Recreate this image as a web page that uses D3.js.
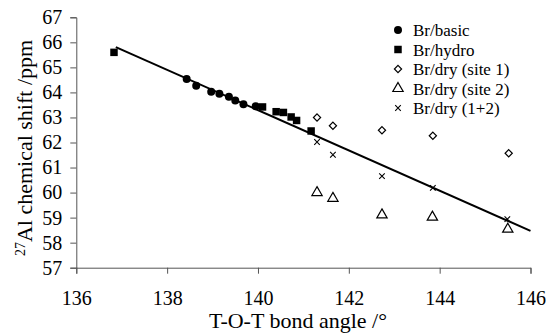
<!DOCTYPE html>
<html><head><meta charset="utf-8">
<script src="https://cdn.jsdelivr.net/npm/d3@7"></script>
<style>
body{margin:0;background:#fff;}
svg text{font-family:"Liberation Serif","Times New Roman",serif !important;fill:#000;}
</style></head>
<body><svg id="c" width="546" height="335"></svg>
<script>
const basicX = [138.43, 138.64, 138.97, 139.15, 139.36, 139.5, 139.68, 139.95];
const basicY = [64.54, 64.27, 64.03, 63.95, 63.83, 63.68, 63.53, 63.45];
const hydroX = [136.83, 140.1, 140.4, 140.56, 140.73, 140.85, 141.17];
const hydroY = [65.6, 63.42, 63.23, 63.2, 63.02, 62.88, 62.46];
const site1X = [141.3, 141.65, 142.73, 143.85, 145.52];
const site1Y = [63.0, 62.67, 62.49, 62.27, 61.57];
const site2X = [141.3, 141.65, 142.73, 143.84, 145.5];
const site2Y = [60.0, 59.77, 59.11, 59.02, 58.54];
const bothX = [141.3, 141.65, 142.73, 143.85, 145.49];
const bothY = [62.02, 61.51, 60.66, 60.19, 58.94];
const trendX = [136.87, 146.0];
const trendY = [65.81, 58.47];
const xTicks = [136, 138, 140, 142, 144, 146];
const yTicks = [57, 58, 59, 60, 61, 62, 63, 64, 65, 66, 67];
const legendLabels = ["Br/basic", "Br/hydro", "Br/dry (site 1)", "Br/dry (site 2)", "Br/dry (1+2)"];

const svg = d3.select("#c");
const x = d3.scaleLinear().domain([136, 146]).range([76.3, 530.5]);
const y = d3.scaleLinear().domain([57, 67]).range([267.7, 17.3]);

const axisColor = "#555";
const gx = svg.append("g").attr("transform", `translate(0,${y(57)})`)
  .call(d3.axisBottom(x).tickValues(xTicks).tickFormat(d3.format("d")).tickSize(6).tickPadding(17));
const gy = svg.append("g").attr("transform", `translate(${x(136)},0)`)
  .call(d3.axisLeft(y).tickValues(yTicks).tickFormat(d3.format("d")).tickSize(6).tickPadding(8));
[gx, gy].forEach(g => {
  g.attr("font-family", null).attr("font-size", null);
  g.select(".domain").attr("stroke", axisColor).attr("stroke-width", 1);
  g.selectAll(".tick line").attr("stroke", axisColor);
  g.selectAll(".tick text").style("font-family", '"Liberation Serif",serif').style("font-size", "20px").attr("fill", "#000");
});

// trend line
svg.append("line")
  .attr("x1", x(trendX[0])).attr("y1", y(trendY[0]))
  .attr("x2", x(trendX[1])).attr("y2", y(trendY[1]))
  .attr("stroke", "#000").attr("stroke-width", 2);

const pts = (xs, ys) => xs.map((v, i) => [v, ys[i]]);
const diamondPath = () => "M0,-3.6L3.6,0L0,3.6L-3.6,0Z";
const sym = {
  circle: d3.symbol().type(d3.symbolCircle).size(50),
  square: d3.symbol().type(d3.symbolSquare).size(56),
  diamond: diamondPath,
  triangle: d3.symbol().type(d3.symbolTriangle).size(46),
  cross: d3.symbol().type(d3.symbolTimes).size(22)
};
const styles = {
  circle: {fill: "#000", stroke: "none", sw: 0},
  square: {fill: "#000", stroke: "none", sw: 0},
  diamond: {fill: "#fff", stroke: "#000", sw: 1.2},
  triangle: {fill: "none", stroke: "#000", sw: 1.2},
  cross: {fill: "none", stroke: "#000", sw: 1.1}
};
function draw(data, kind) {
  svg.append("g").selectAll("path").data(data).join("path")
    .attr("transform", d => `translate(${x(d[0])},${y(d[1])})`)
    .attr("d", sym[kind]())
    .attr("fill", styles[kind].fill).attr("stroke", styles[kind].stroke)
    .attr("stroke-width", styles[kind].sw);
}
draw(pts(site2X, site2Y), "triangle");
draw(pts(bothX, bothY), "cross");
draw(pts(site1X, site1Y), "diamond");
draw(pts(hydroX, hydroY), "square");
draw(pts(basicX, basicY), "circle");

// legend
const kinds = ["circle", "square", "diamond", "triangle", "cross"];
const lg = svg.append("g");
kinds.forEach((k, i) => {
  const cy = 30 + i * 19.5;
  lg.append("path").attr("transform", `translate(398,${cy})`).attr("d", sym[k]())
    .attr("fill", styles[k].fill).attr("stroke", styles[k].stroke).attr("stroke-width", styles[k].sw);
  lg.append("text").attr("x", 413).attr("y", cy + 6).style("font-size", "17px").text(legendLabels[i]);
});

// axis titles
svg.append("text").attr("x", 298).attr("y", 328).attr("text-anchor", "middle")
  .style("font-size", "22px").text("T-O-T bond angle /°");
const yt = svg.append("text").attr("transform", "translate(32,148) rotate(-90)")
  .attr("text-anchor", "middle").style("font-size", "22px");
yt.append("tspan").style("font-size", "14px").attr("baseline-shift", "super").text("27");
yt.append("tspan").text("Al chemical shift /ppm");
</script></body></html>
